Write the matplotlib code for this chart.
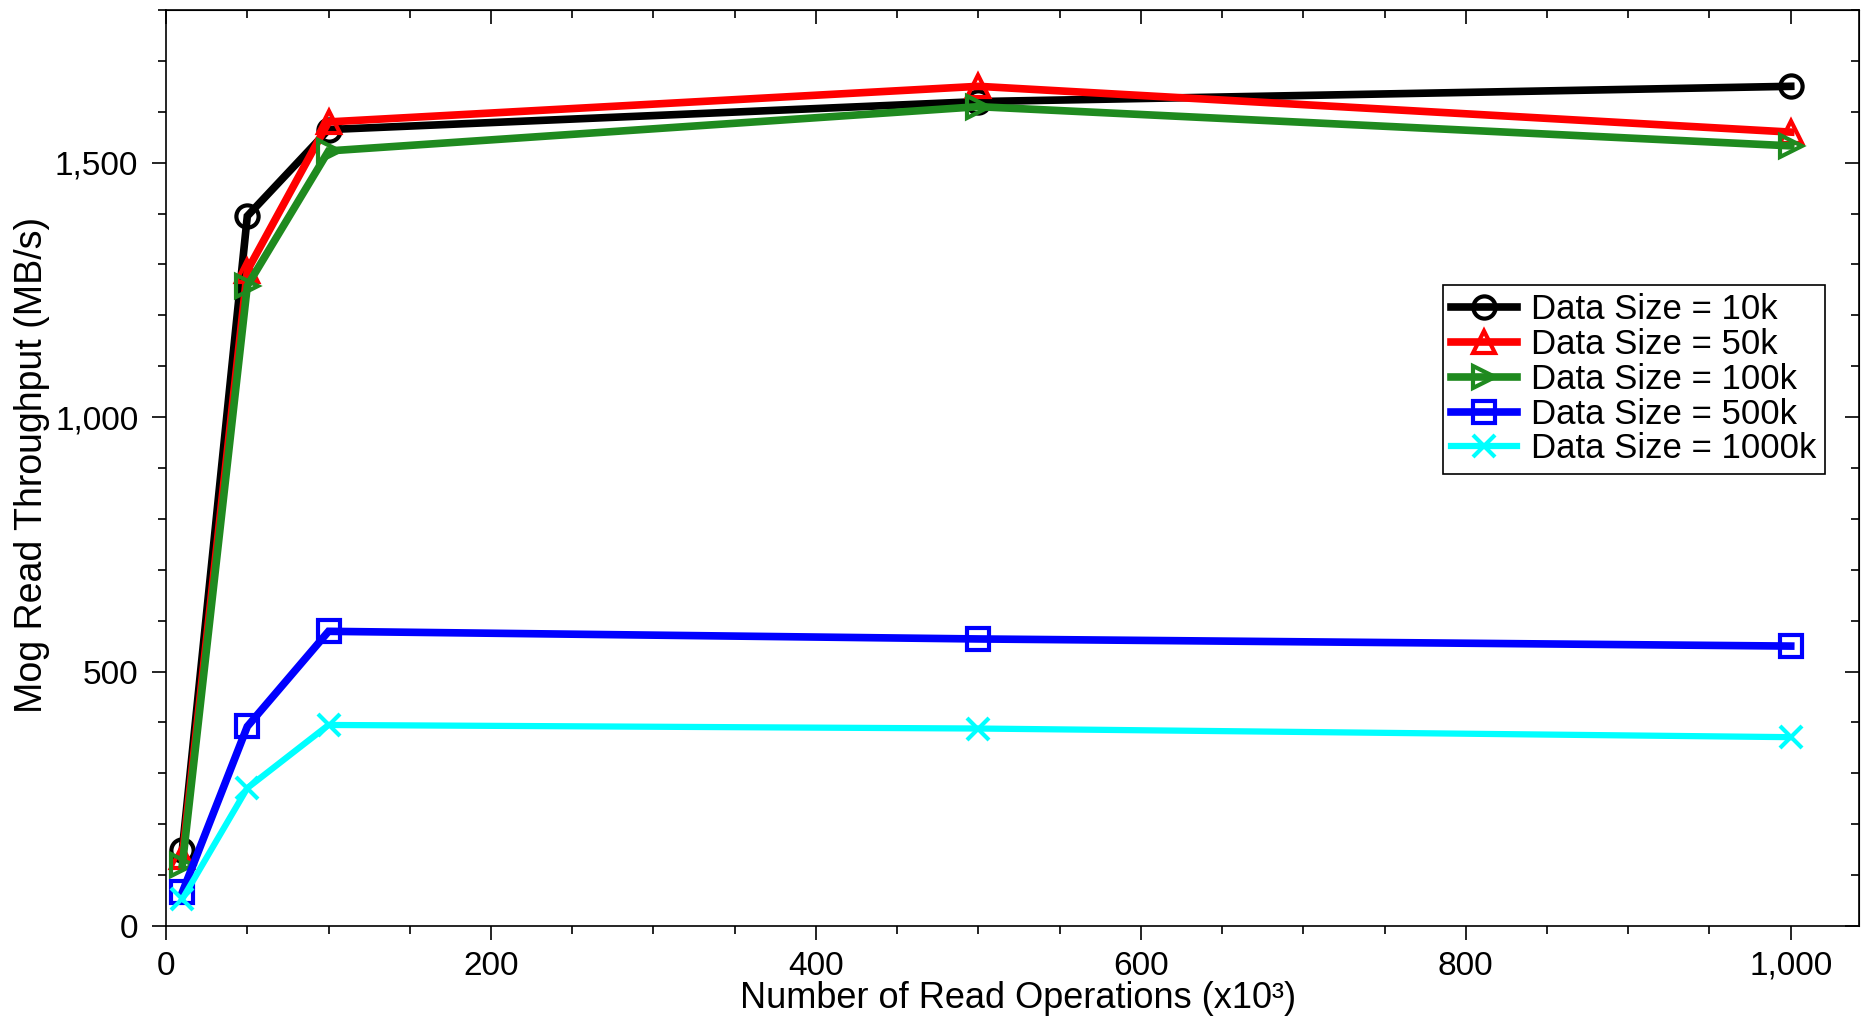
import matplotlib
matplotlib.use("Agg")
import matplotlib.pyplot as plt
from matplotlib.ticker import MultipleLocator, FuncFormatter, NullFormatter

plt.rcParams['font.family'] = ['Liberation Sans', 'DejaVu Sans']

# number of read operations (x10^3)
read_ops = [10, 50, 100, 500, 1000]

# throughput in MB/s per data size
size_10k = [150, 1395, 1565, 1620, 1650]
size_50k = [135, 1288, 1580, 1650, 1560]
size_100k = [120, 1258, 1523, 1610, 1533]
size_500k = [66, 392, 579, 564, 550]
size_1000k = [53, 271, 395, 388, 371]

series_labels = ["Data Size = 10k", "Data Size = 50k", "Data Size = 100k",
                 "Data Size = 500k", "Data Size = 1000k"]

fig = plt.figure(figsize=(18.64, 10.18), dpi=100)
ax = fig.add_axes([0.0891, 0.0904, 0.9082, 0.8998])

styles = [
    (size_10k, "black", "o", 5.5),
    (size_50k, "#ff0000", "^", 5.5),
    (size_100k, "#1f8a1f", ">", 5.5),
    (size_500k, "#0000ff", "s", 5.5),
    (size_1000k, "#00ffff", "x", 4.5),
]

for (vals, col, mk, lw), lab in zip(styles, series_labels):
    ax.plot(read_ops, vals, color=col, marker=mk, lw=lw, markersize=16,
            markerfacecolor="none", markeredgecolor=col, markeredgewidth=3,
            label=lab, solid_joinstyle="miter")

ax.set_xlim(0, 1042)
ax.set_ylim(0, 1800)

ax.xaxis.set_major_locator(MultipleLocator(200))
ax.xaxis.set_minor_locator(MultipleLocator(50))
ax.yaxis.set_major_locator(MultipleLocator(500))
ax.yaxis.set_minor_locator(MultipleLocator(100))
comma = FuncFormatter(lambda v, p: "{:,.0f}".format(v))
ax.xaxis.set_major_formatter(comma)
ax.yaxis.set_major_formatter(comma)

ax.tick_params(which="both", direction="out", width=1.2, labelsize=24)
ax.tick_params(axis="x", pad=8)
ax.tick_params(axis="y", pad=10)
ax.tick_params(which="major", length=10)
ax.tick_params(which="minor", length=6)

# inward ticks on top and right
top = ax.secondary_xaxis("top")
top.xaxis.set_major_locator(MultipleLocator(200))
top.xaxis.set_minor_locator(MultipleLocator(50))
top.xaxis.set_major_formatter(NullFormatter())
top.tick_params(which="both", direction="in", width=1.2)
top.tick_params(which="major", length=10)
top.tick_params(which="minor", length=6)

right = ax.secondary_yaxis("right")
right.yaxis.set_major_locator(MultipleLocator(500))
right.yaxis.set_minor_locator(MultipleLocator(100))
right.yaxis.set_major_formatter(NullFormatter())
right.tick_params(which="both", direction="in", width=1.2)
right.tick_params(which="major", length=10)
right.tick_params(which="minor", length=6)

for s in ax.spines.values():
    s.set_linewidth(1.2)

ax.set_xlabel("Number of Read Operations (x10³)", fontsize=26)
ax.xaxis.set_label_coords(0.503, -0.060)
ax.set_ylabel("Mog Read Throughput (MB/s)", fontsize=27)
ax.yaxis.set_label_coords(-0.0685, 0.503)

leg = ax.legend(loc="upper right", bbox_to_anchor=(0.980, 0.700), fontsize=25,
                frameon=True, fancybox=False, edgecolor="black", framealpha=1,
                handlelength=1.9, labelspacing=0.05, borderpad=0.25,
                handletextpad=0.4, borderaxespad=0)
leg.get_frame().set_linewidth(1.2)

fig.savefig("out.png", dpi=100)
